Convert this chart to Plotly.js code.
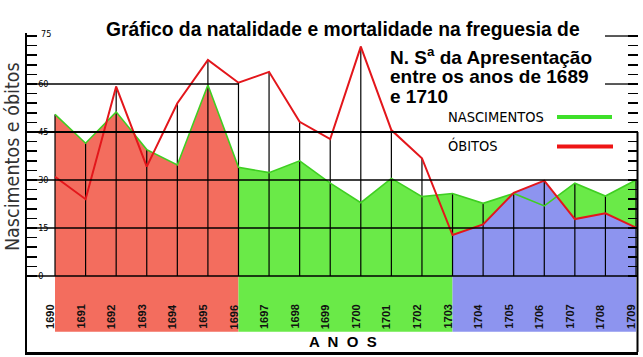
<!DOCTYPE html>
<html><head><meta charset="utf-8">
<script src="https://cdn.plot.ly/plotly-3.0.1.min.js"></script>
<style>html,body{margin:0;padding:0;background:#fff}#chart{width:643px;height:357px}</style>
</head><body><div id="chart"></div>
<script>
// ---- data ----
const years  = [1690,1691,1692,1693,1694,1695,1696,1697,1698,1699,1700,1701,1702,1703,1704,1705,1706,1707,1708,1709];
const births = [50.5,41.5,51.3,39.5,34.7,59.7,34.0,32.3,36.0,29.0,22.9,30.5,24.8,25.8,22.7,25.8,21.9,29.0,25.0,30.0];
const deaths = [31.0,24.0,59.2,34.2,54.0,67.5,60.4,63.8,48.2,42.8,71.7,45.6,36.8,12.8,16.1,26.0,29.8,17.8,19.6,15.1];
const yTickVals = [0,15,30,45,60,75];
const yTickText = ['0','15','30','45','60','75'];
const titleLines = ['Gráfico da natalidade e mortalidade na freguesia de','N. S<sup>a</sup> da Apresentação','entre os anos de 1689','e 1710'];
const legendNames = ['NASCIMENTOS','ÓBITOS'];
const yTitle = 'Nascimentos e óbitos';
const xTitle = 'A  N  O  S';

// section boundaries (indices into years)
const redEnd = 6, blueStart = 13;

const W = 643, H = 357;
const px = x => x / W, py = y => 1 - y / H;

const RED = '#f36d5e', GREEN = '#6aea48', BLUE = '#8d94ef';

const traces = [];
traces.push({x: years.slice(0, redEnd + 1), y: births.slice(0, redEnd + 1), mode: 'none', fill: 'tozeroy', fillcolor: RED, hoverinfo: 'skip', showlegend: false});
traces.push({x: years.slice(redEnd), y: births.slice(redEnd), mode: 'none', fill: 'tozeroy', fillcolor: GREEN, hoverinfo: 'skip', showlegend: false});
traces.push({x: years.slice(blueStart), y: deaths.slice(blueStart), mode: 'none', fill: 'tozeroy', fillcolor: BLUE, hoverinfo: 'skip', showlegend: false});

// vertical grid lines from 0 up to the higher curve
const gx = [], gy = [];
years.forEach((yr, i) => { gx.push(yr, yr, null); gy.push(0, Math.max(births[i], deaths[i]), null); });
traces.push({x: gx, y: gy, mode: 'lines', line: {color: '#000', width: 1.2}, hoverinfo: 'skip', showlegend: false});

traces.push({x: years, y: births, mode: 'lines', line: {color: '#3fcf22', width: 1.6}, name: legendNames[0], showlegend: false});
traces.push({x: years, y: deaths, mode: 'lines', line: {color: '#e3161b', width: 2}, name: legendNames[1], showlegend: false});
// invisible trace on right axis
traces.push({x: [years[0]], y: [0], yaxis: 'y2', mode: 'none', hoverinfo: 'skip', showlegend: false});

const yr0 = -23.75, yr1 = 75.94;
const minorVals = []; for (let v = 0; v <= 75; v += 3) minorVals.push(v);

const shapes = [];
// colored band under the zero line
const bandBottom = -17.4;
shapes.push({type: 'rect', xref: 'x', yref: 'y', x0: years[0], x1: years[redEnd], y0: bandBottom, y1: 0, fillcolor: RED, line: {width: 0}, layer: 'below'});
shapes.push({type: 'rect', xref: 'x', yref: 'y', x0: years[redEnd], x1: years[blueStart], y0: bandBottom, y1: 0, fillcolor: GREEN, line: {width: 0}, layer: 'below'});
shapes.push({type: 'rect', xref: 'x', yref: 'y', x0: years[blueStart], x1: years[years.length - 1], y0: bandBottom, y1: 0, fillcolor: BLUE, line: {width: 0}, layer: 'below'});
// horizontal grid lines
[0, 15, 30, 45].forEach(v => shapes.push({type: 'line', xref: 'paper', yref: 'y', x0: px(27), x1: px(638), y0: v, y1: v, line: {color: '#000', width: v === 45 ? 1.8 : 1.3}, layer: 'above'}));
shapes.push({type: 'line', xref: 'paper', yref: 'y', x0: px(27), x1: px(239), y0: 60, y1: 60, line: {color: '#000', width: 1.3}, layer: 'above'});
// short marks at the top right
shapes.push({type: 'line', xref: 'paper', yref: 'y', x0: px(605), x1: px(637), y0: 75, y1: 75, line: {color: '#000', width: 1.3}});
shapes.push({type: 'line', xref: 'paper', yref: 'y', x0: px(605), x1: px(637), y0: 60, y1: 60, line: {color: '#000', width: 1.3}});
// right frame line of legend box
shapes.push({type: 'line', xref: 'paper', yref: 'y', x0: px(637.5), x1: px(637.5), y0: 45, y1: yr0, line: {color: '#000', width: 2}, layer: 'above'});
// legend samples
shapes.push({type: 'line', xref: 'paper', yref: 'paper', x0: px(557), x1: px(612), y0: py(117), y1: py(117), line: {color: '#3ee02a', width: 4}});
shapes.push({type: 'line', xref: 'paper', yref: 'paper', x0: px(557), x1: px(613), y0: py(146.5), y1: py(146.5), line: {color: '#ee1515', width: 4}});

const annotations = [];
const tfont = {family: 'Liberation Sans, Arial, sans-serif', size: 19, color: '#000', weight: 'bold'};
annotations.push({xref: 'paper', yref: 'paper', x: px(104), y: py(29), xanchor: 'left', yanchor: 'middle', text: '<b>' + titleLines[0] + '</b>', showarrow: false, font: Object.assign({}, tfont, {size: 19.3})});
[56, 76.5, 97].forEach((yy, i) => annotations.push({xref: 'paper', yref: 'paper', x: px(388), y: py(yy), xanchor: 'left', yanchor: 'middle', text: '<b>' + titleLines[i + 1] + '</b>', showarrow: false, font: tfont}));
annotations.push({xref: 'paper', yref: 'paper', x: px(446), y: py(117), xanchor: 'left', yanchor: 'middle', text: legendNames[0], showarrow: false, font: {family: 'DejaVu Sans Condensed, DejaVu Sans', size: 14.5, color: '#000'}});
annotations.push({xref: 'paper', yref: 'paper', x: px(446), y: py(145), xanchor: 'left', yanchor: 'middle', text: legendNames[1], showarrow: false, font: {family: 'DejaVu Sans Condensed, DejaVu Sans', size: 14.5, color: '#000'}});
annotations.push({xref: 'paper', yref: 'paper', x: px(12), y: py(157), xanchor: 'center', yanchor: 'middle', textangle: -90, text: yTitle, showarrow: false, font: {family: 'DejaVu Sans Condensed, DejaVu Sans', size: 19.5, color: '#333'}});
annotations.push({xref: 'paper', yref: 'paper', x: px(343), y: py(341), xanchor: 'center', yanchor: 'middle', text: '<b>' + xTitle + '</b>', showarrow: false, font: {family: 'Liberation Sans, Arial', size: 15, color: '#000'}});
// top tick label (drawn as annotation so it is not clipped at the axis end)
annotations.push({xref: 'paper', yref: 'y', x: px(39), y: yTickVals[5], xanchor: 'left', yanchor: 'middle', yshift: 2, text: yTickText[5], showarrow: false, font: {family: 'DejaVu Sans Condensed, DejaVu Sans', size: 9, color: '#000'}});
years.forEach(yr => annotations.push({xref: 'x', yref: 'y', x: yr, y: -12.8, xshift: -5, xanchor: 'center', yanchor: 'middle', textangle: -90, text: '<b>' + yr + '</b>', showarrow: false, font: {family: 'Liberation Sans, Arial', size: 11, color: '#111'}}));

const layout = {
  width: W, height: H,
  margin: {l: 0, r: 0, t: 0, b: 0},
  paper_bgcolor: '#fff', plot_bgcolor: '#fff',
  showlegend: false,
  xaxis: {domain: [px(27), px(638)], range: [1689.084, 1709.065], showgrid: false, zeroline: false, showticklabels: false, ticks: '', showline: true, linecolor: '#000', linewidth: 3, fixedrange: true},
  yaxis: {domain: [py(352), py(33)], range: [yr0, yr1], showgrid: false, zeroline: false, showline: true, linecolor: '#000', linewidth: 2,
          tickmode: 'array', tickvals: yTickVals.slice(0, 5), ticktext: yTickText.slice(0, 5), ticks: 'inside', ticklen: 10, tickwidth: 1.5, tickcolor: '#000',
          ticklabelposition: 'inside', tickfont: {family: 'DejaVu Sans Condensed, DejaVu Sans', size: 9, color: '#000'},
          minor: {tickmode: 'array', tickvals: minorVals, ticks: 'inside', ticklen: 10, tickwidth: 1.5, tickcolor: '#000', showgrid: false}},
  yaxis2: {overlaying: 'y', side: 'right', anchor: 'x', range: [yr0, yr1], showgrid: false, zeroline: false, showline: false, showticklabels: false,
           tickmode: 'array', tickvals: minorVals, ticks: 'inside', ticklen: 10, tickwidth: 1.5, tickcolor: '#000'},
  shapes: shapes,
  annotations: annotations
};

Plotly.newPlot('chart', traces, layout, {staticPlot: true});
</script>
</body></html>
